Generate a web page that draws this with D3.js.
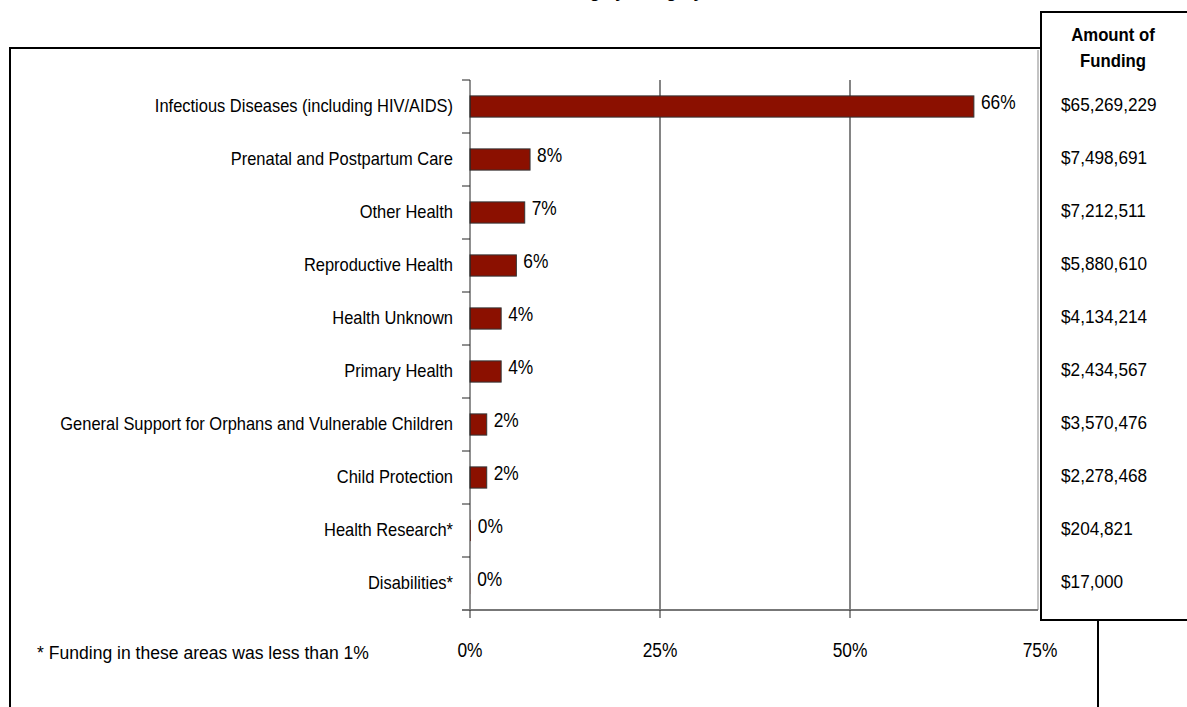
<!DOCTYPE html>
<html>
<head>
<meta charset="utf-8">
<script src="https://cdn.jsdelivr.net/npm/d3@7"></script>
<style>
  body { margin: 0; background: #fff; }
  svg text { font-family: "Liberation Sans Narrow", "Arial Narrow", "Liberation Sans", Arial, sans-serif; fill: #000; }
</style>
</head>
<body>
<svg id="viz"></svg>
<script>
/* chart data */
var categories = [
	"Infectious Diseases (including HIV/AIDS)",
	"Prenatal and Postpartum Care",
	"Other Health",
	"Reproductive Health",
	"Health Unknown",
	"Primary Health",
	"General Support for Orphans and Vulnerable Children",
	"Child Protection",
	"Health Research*",
	"Disabilities*"
];
var shares = [66.3, 7.9, 7.2, 6.1, 4.1, 4.1, 2.2, 2.2, 0.1, 0.02];
var shareLabels = ["66%", "8%", "7%", "6%", "4%", "4%", "2%", "2%", "0%", "0%"];
var funding = [65269229, 7498691, 7212511, 5880610, 4134214, 2434567, 3570476, 2278468, 204821, 17000];
var xTicks = [0, 25, 50, 75];

var W = 1187, H = 707;
var plot = { left: 470, right: 1040, top: 80, bottom: 610 };

var svg = d3.select('#viz')
	.attr('width', W)
	.attr('height', H);

var x = d3.scaleLinear()
	.domain([0, 75])
	.range([plot.left, plot.right]);

var y = d3.scaleBand()
	.domain(categories)
	.range([plot.top, plot.bottom])
	.paddingInner(0.6)
	.paddingOuter(0.3);

var yEdge = d3.scaleLinear()
	.domain([0, categories.length])
	.range([plot.top, plot.bottom]);

// no narrow face installed, so squeeze the regular one horizontally
var squeeze = function(sel, sx){
	sel.attr('transform', function(){
		var t = d3.select(this), px = +t.attr('x'), py = +t.attr('y');
		return 'translate(' + px + ',' + py + ') scale(' + sx + ',1) translate(' + (-px) + ',' + (-py) + ')';
	});
}

/* title, clipped at the top of the page */
svg.append('text')
	.attr('x', 703)
	.attr('y', -2)
	.attr('text-anchor', 'end')
	.style('font-family', 'Arial, "Liberation Sans", sans-serif')
	.style('font-weight', 'bold')
	.style('font-size', '17px')
	.text('Distribution of Health Funding by Category');

/* frame lines */
var frame = svg.append('g')
	.attr('stroke', '#000')
	.attr('stroke-width', 2)
	.attr('fill', 'none');
frame.append('path').attr('d', 'M10,' + H + 'V48H1041');
frame.append('path').attr('d', 'M1187,12H1041V620H1187');
frame.append('path').attr('d', 'M1098,620V' + H);

/* gridlines */
svg.append('g')
	.selectAll('line')
	.data(xTicks.filter(function(d){ return d > 0 && d < 75; }))
	.enter().append('line')
	.attr('x1', function(d){ return x(d); })
	.attr('x2', function(d){ return x(d); })
	.attr('y1', plot.top)
	.attr('y2', plot.bottom)
	.attr('stroke', '#333')
	.attr('stroke-width', 1.2);

/* plot right edge */
svg.append('line')
	.attr('x1', plot.right - 2).attr('x2', plot.right - 2)
	.attr('y1', plot.top - 30).attr('y2', plot.bottom)
	.attr('stroke', '#888')
	.attr('stroke-width', 1);

/* bars */
svg.append('g')
	.selectAll('rect')
	.data(shares)
	.enter().append('rect')
	.attr('x', x(0))
	.attr('y', function(d, i){ return y(categories[i]); })
	.attr('width', function(d){ return x(d) - x(0); })
	.attr('height', y.bandwidth())
	.attr('fill', '#8b1000')
	.attr('stroke', function(d){ return d < 1 ? 'none' : '#333'; })
	.attr('stroke-width', 1);

/* value labels */
svg.append('g')
	.selectAll('text')
	.data(shares)
	.enter().append('text')
	.attr('x', function(d){ return x(d) + 7; })
	.attr('y', function(d, i){ return y(categories[i]) + y.bandwidth() / 2 + 3; })
	.style('font-size', '19.5px')
	.text(function(d, i){ return shareLabels[i]; })
	.call(squeeze, 0.89);

/* y axis */
var yAxisG = svg.append('g').attr('stroke', '#222').attr('stroke-width', 1);
yAxisG.append('line')
	.attr('x1', plot.left).attr('x2', plot.left)
	.attr('y1', plot.top).attr('y2', plot.bottom);
yAxisG.selectAll('.tick')
	.data(d3.range(categories.length + 1))
	.enter().append('line')
	.attr('x1', plot.left - 8).attr('x2', plot.left)
	.attr('y1', function(d){ return yEdge(d); })
	.attr('y2', function(d){ return yEdge(d); });

svg.append('g')
	.selectAll('text')
	.data(categories)
	.enter().append('text')
	.attr('x', plot.left - 17)
	.attr('y', function(d){ return y(d) + y.bandwidth() / 2 + 6; })
	.attr('text-anchor', 'end')
	.style('font-size', '18.5px')
	.text(function(d){ return d; })
	.call(squeeze, 0.89);

/* x axis */
var xAxisG = svg.append('g');
xAxisG.append('line')
	.attr('x1', plot.left - 8).attr('x2', plot.right - 2)
	.attr('y1', plot.bottom).attr('y2', plot.bottom)
	.attr('stroke', '#777')
	.attr('stroke-width', 2);
xAxisG.selectAll('.tick')
	.data(xTicks.filter(function(d){ return d < 75; }))
	.enter().append('line')
	.attr('x1', function(d){ return x(d); })
	.attr('x2', function(d){ return x(d); })
	.attr('y1', plot.bottom)
	.attr('y2', plot.bottom + 8)
	.attr('stroke', '#222');
xAxisG.selectAll('text')
	.data(xTicks)
	.enter().append('text')
	.attr('x', function(d){ return x(d); })
	.attr('y', plot.bottom + 47)
	.attr('text-anchor', 'middle')
	.style('font-size', '19.5px')
	.text(function(d){ return d + '%'; })
	.call(squeeze, 0.89);

/* funding column */
svg.append('g')
	.selectAll('text')
	.data(['Amount of', 'Funding'])
	.enter().append('text')
	.attr('x', 1113)
	.attr('y', function(d, i){ return 41 + i * 26; })
	.attr('text-anchor', 'middle')
	.style('font-family', 'Arial, "Liberation Sans", sans-serif')
	.style('font-weight', 'bold')
	.style('font-size', '18px')
	.text(function(d){ return d; })
	.call(squeeze, 0.93);

var fmt = d3.format('$,.0f');
svg.append('g')
	.selectAll('text')
	.data(funding)
	.enter().append('text')
	.attr('x', 1061)
	.attr('y', function(d, i){ return y(categories[i]) + y.bandwidth() / 2 + 5; })
	.style('font-size', '18.5px')
	.text(function(d){ return fmt(d); })
	.call(squeeze, 0.93);

/* footnote */
svg.append('text')
	.attr('x', 37)
	.attr('y', 659)
	.style('font-size', '18.5px')
	.text('* Funding in these areas was less than 1%')
	.call(squeeze, 0.95);
</script>
</body>
</html>
